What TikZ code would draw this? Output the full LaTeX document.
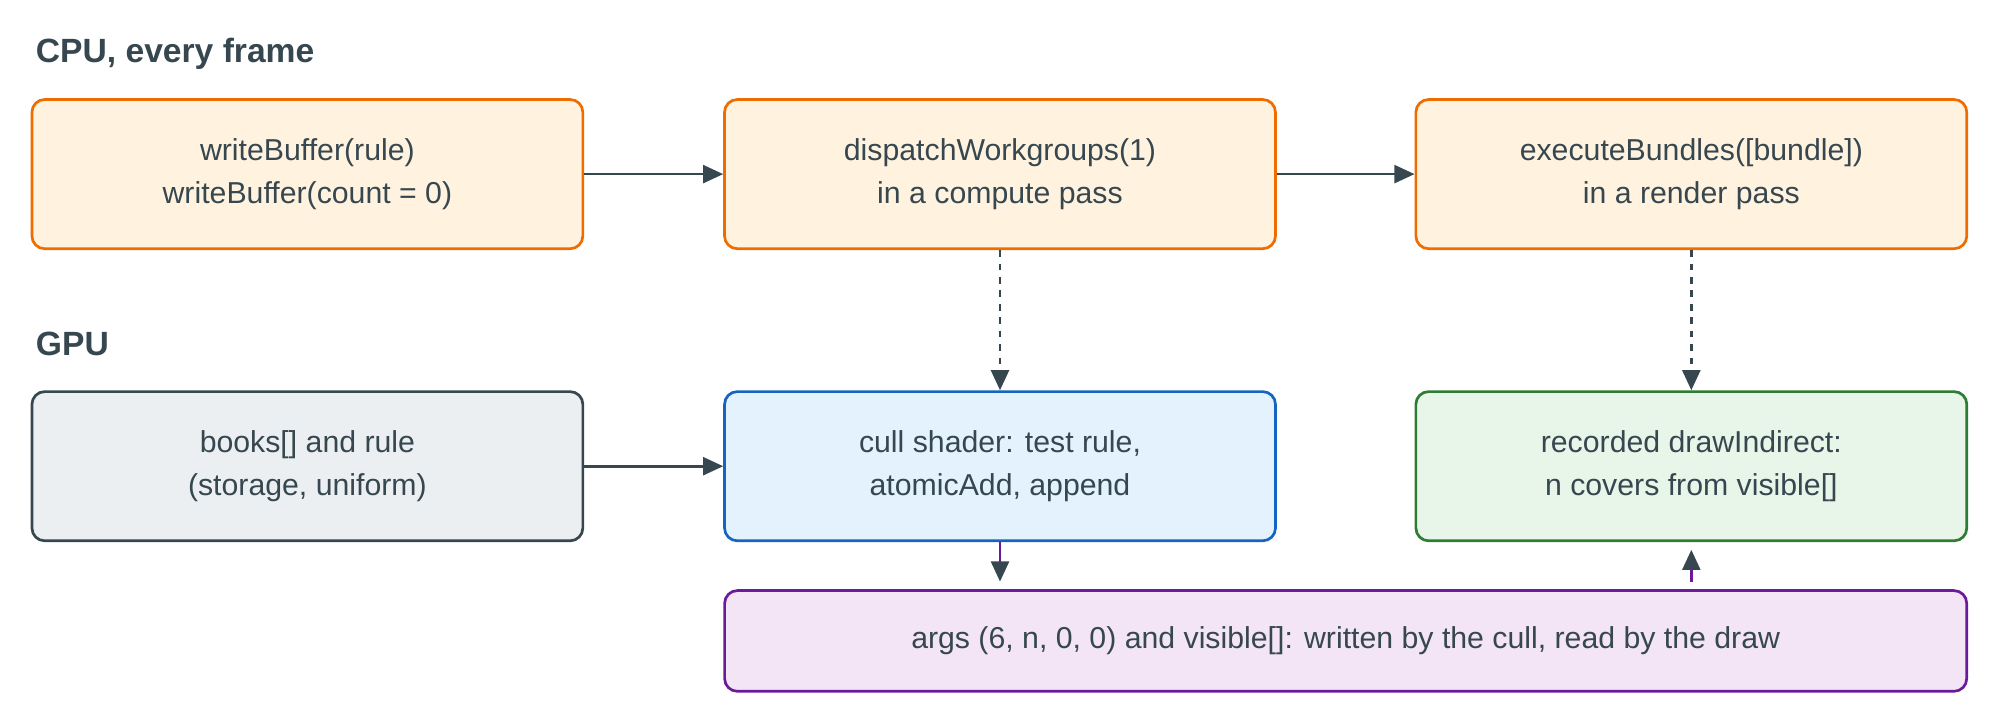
\documentclass[tikz,border=0pt]{standalone}
\usepackage{fontspec}
\setmainfont{Liberation Sans}
\usetikzlibrary{arrows.meta}
\definecolor{ink}{HTML}{37474F}
\definecolor{orD}{HTML}{EF6C00}\definecolor{orF}{HTML}{FFF3E0}
\definecolor{grD}{HTML}{37474F}\definecolor{grF}{HTML}{ECEFF1}
\definecolor{blD}{HTML}{1565C0}\definecolor{blF}{HTML}{E3F2FD}
\definecolor{gnD}{HTML}{2E7D32}\definecolor{gnF}{HTML}{E8F5E9}
\definecolor{puD}{HTML}{6A1B9A}\definecolor{puF}{HTML}{F3E5F5}
\begin{document}
\begin{tikzpicture}[x=0.02cm,y=-0.02cm,
  box/.style={draw,rounded corners=0.2cm,line width=1.2pt,minimum width=8.64cm,minimum height=2.34cm,align=center,font=\fontsize{13.5}{19}\selectfont,text=ink},
  cpu/.style={box,draw=orD,fill=orF},
  conn/.style={draw=ink,line width=1.2pt,-{Triangle[length=9pt,width=8pt]}},
  dconn/.style={conn,dashed},
  pconn/.style={draw=puD,line width=1.2pt,-{Triangle[length=9pt,width=8pt,color=ink]}},
  head/.style={anchor=west,font=\fontsize{15}{18}\selectfont\bfseries,text=ink}]
\useasboundingbox (0,0) rectangle (1568,562);
\node[head] (h1) at (22,42) {CPU, every frame};
\node[head] (h2) at (22,270) {GPU};
\node[cpu] (wb) at (241,136.5) {writeBuffer(rule)\\writeBuffer(count = 0)};
\node[cpu] (dw) at (784,136.5) {dispatchWorkgroups(1)\\in a compute pass};
\node[cpu] (eb) at (1326,136.5) {executeBundles([bundle])\\in a render pass};
\node[box,draw=grD,fill=grF] (bk) at (241,365.5) {books[] and rule\\(storage, uniform)};
\node[box,draw=blD,fill=blF] (cs) at (784,365.5) {cull shader: test rule,\\atomicAdd, append};
\node[box,draw=gnD,fill=gnF] (rd) at (1326,365.5) {recorded drawIndirect:\\n covers from visible[]};
\node[box,draw=puD,fill=puF,minimum width=19.48cm,minimum height=1.58cm] (ar) at (1055,502.5) {args (6, n, 0, 0) and visible[]: written by the cull, read by the draw};
\draw[conn] (wb) -- (dw);
\draw[conn] (dw) -- (eb);
\draw[conn] (bk) -- (cs);
\draw[dconn] (dw) -- (cs);
\draw[dconn] (eb) -- (rd);
\draw[pconn] (cs.south) -- ([yshift=0.12cm]ar.north -| cs.south);
\draw[pconn] ([yshift=0.12cm]ar.north -| rd.south) -- ([yshift=-0.12cm]rd.south);
\end{tikzpicture}
\end{document}
